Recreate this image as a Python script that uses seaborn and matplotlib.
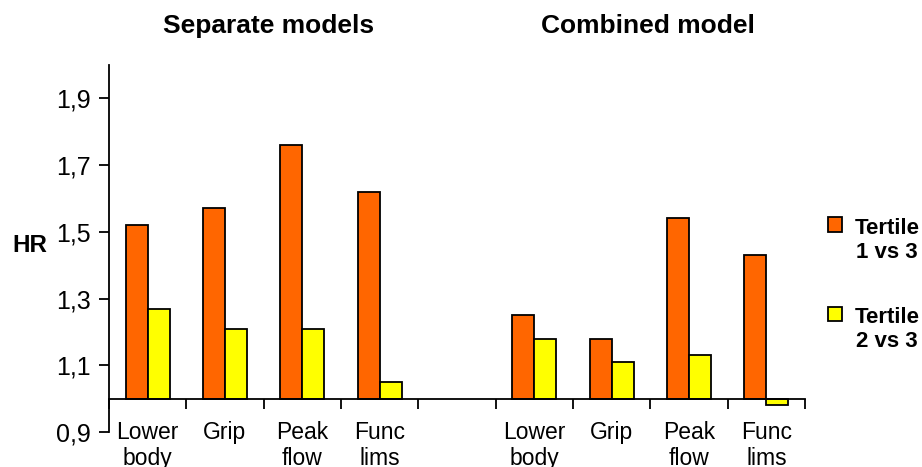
import numpy as np
import pandas as pd
import matplotlib.pyplot as plt
import seaborn as sns
from matplotlib.legend_handler import HandlerPatch

# hazard ratios (bars start at HR = 1)
slots = ['S_lower', 'S_grip', 'S_peak', 'S_func', 'gap',
         'C_lower', 'C_grip', 'C_peak', 'C_func']
slot_labels = ['Lower\nbody', 'Grip', 'Peak\nflow', 'Func\nlims', '',
               'Lower\nbody', 'Grip', 'Peak\nflow', 'Func\nlims']
tests = ['S_lower', 'S_grip', 'S_peak', 'S_func',
         'C_lower', 'C_grip', 'C_peak', 'C_func']
hr_t1_vs_t3 = [1.52, 1.57, 1.76, 1.62, 1.25, 1.18, 1.54, 1.43]
hr_t2_vs_t3 = [1.27, 1.21, 1.21, 1.05, 1.18, 1.11, 1.13, 0.98]
groups = ['Tertile\n1 vs 3', 'Tertile\n2 vs 3']
colors = ['#FF6600', '#FFFF00']
yticks = [0.9, 1.1, 1.3, 1.5, 1.7, 1.9]

df = pd.DataFrame({
    'test': tests * 2,
    'hr': hr_t1_vs_t3 + hr_t2_vs_t3,
    'group': [groups[0]] * len(tests) + [groups[1]] * len(tests),
})
df['height'] = df['hr'] - 1.0

sns.set_theme(style='white')
plt.rcParams['font.family'] = ['Liberation Sans', 'DejaVu Sans']
plt.rcParams['text.color'] = 'black'
plt.rcParams['xtick.color'] = 'black'
plt.rcParams['ytick.color'] = 'black'

fig = plt.figure(figsize=(9.22, 4.67), dpi=100)
ax = fig.add_axes([0.1182, 0.0749, 0.7549, 0.7859])

sns.barplot(data=df, x='test', y='height', hue='group', order=slots,
            hue_order=groups, palette=colors, saturation=1, width=0.57,
            gap=0, edgecolor='black', linewidth=1.3, bottom=1.0,
            errorbar=None, legend=False, ax=ax)

ax.set_xlim(-0.5, 8.5)
ax.set_ylim(0.9, 2.0)

# axes styling
for s in ['top', 'right']:
    ax.spines[s].set_visible(False)
for s in ['left', 'bottom']:
    ax.spines[s].set_color('black')
    ax.spines[s].set_linewidth(1.3)
ax.spines['bottom'].set_position(('data', 1.0))

ax.set_yticks(yticks)
ax.set_yticklabels([f'{v:.1f}'.replace('.', ',') for v in yticks], fontsize=18)
ax.tick_params(axis='y', direction='out', length=7, width=1.3, color='black',
               left=True, pad=6)

ax.set_xticks(range(len(slots)))
ax.set_xticklabels(slot_labels, fontsize=16.5, linespacing=1.15, va='top')
ax.set_xticks(np.arange(-0.5, len(slots), 1.0), minor=True)
ax.tick_params(axis='x', which='major', length=0, pad=16)
ax.tick_params(axis='x', which='minor', direction='out', length=7,
               width=1.3, color='black', bottom=True)
ax.set_xlabel('')
ax.set_ylabel('')
ax.grid(False)

fig.text(0.291, 0.945, 'Separate models', ha='center', va='center',
         fontsize=19, fontweight='bold')
fig.text(0.703, 0.945, 'Combined model', ha='center', va='center',
         fontsize=19, fontweight='bold')
fig.text(0.013, 0.475, 'HR', ha='left', va='center',
         fontsize=17.5, fontweight='bold')


# square legend key sitting next to the first line of the label
def top_square(legend, orig_handle, xdescent, ydescent, width, height, fontsize):
    side = width
    return plt.Rectangle((-xdescent, -ydescent + height - side + 0.33 * fontsize),
                         side, side)


handles = [plt.Rectangle((0, 0), 1, 1, facecolor=c, edgecolor='black',
                         linewidth=1.3) for c in colors]
leg = fig.legend(handles, groups, loc='upper left',
                 bbox_to_anchor=(0.898, 0.534), frameon=False,
                 handlelength=0.65, handleheight=1.9, handletextpad=0.55,
                 labelspacing=2.0, borderpad=0, borderaxespad=0,
                 handler_map={plt.Rectangle: HandlerPatch(patch_func=top_square)},
                 prop={'size': 16, 'weight': 'bold'})
for t in leg.get_texts():
    t.set_multialignment('center')

fig.savefig('out.png', dpi=100)
